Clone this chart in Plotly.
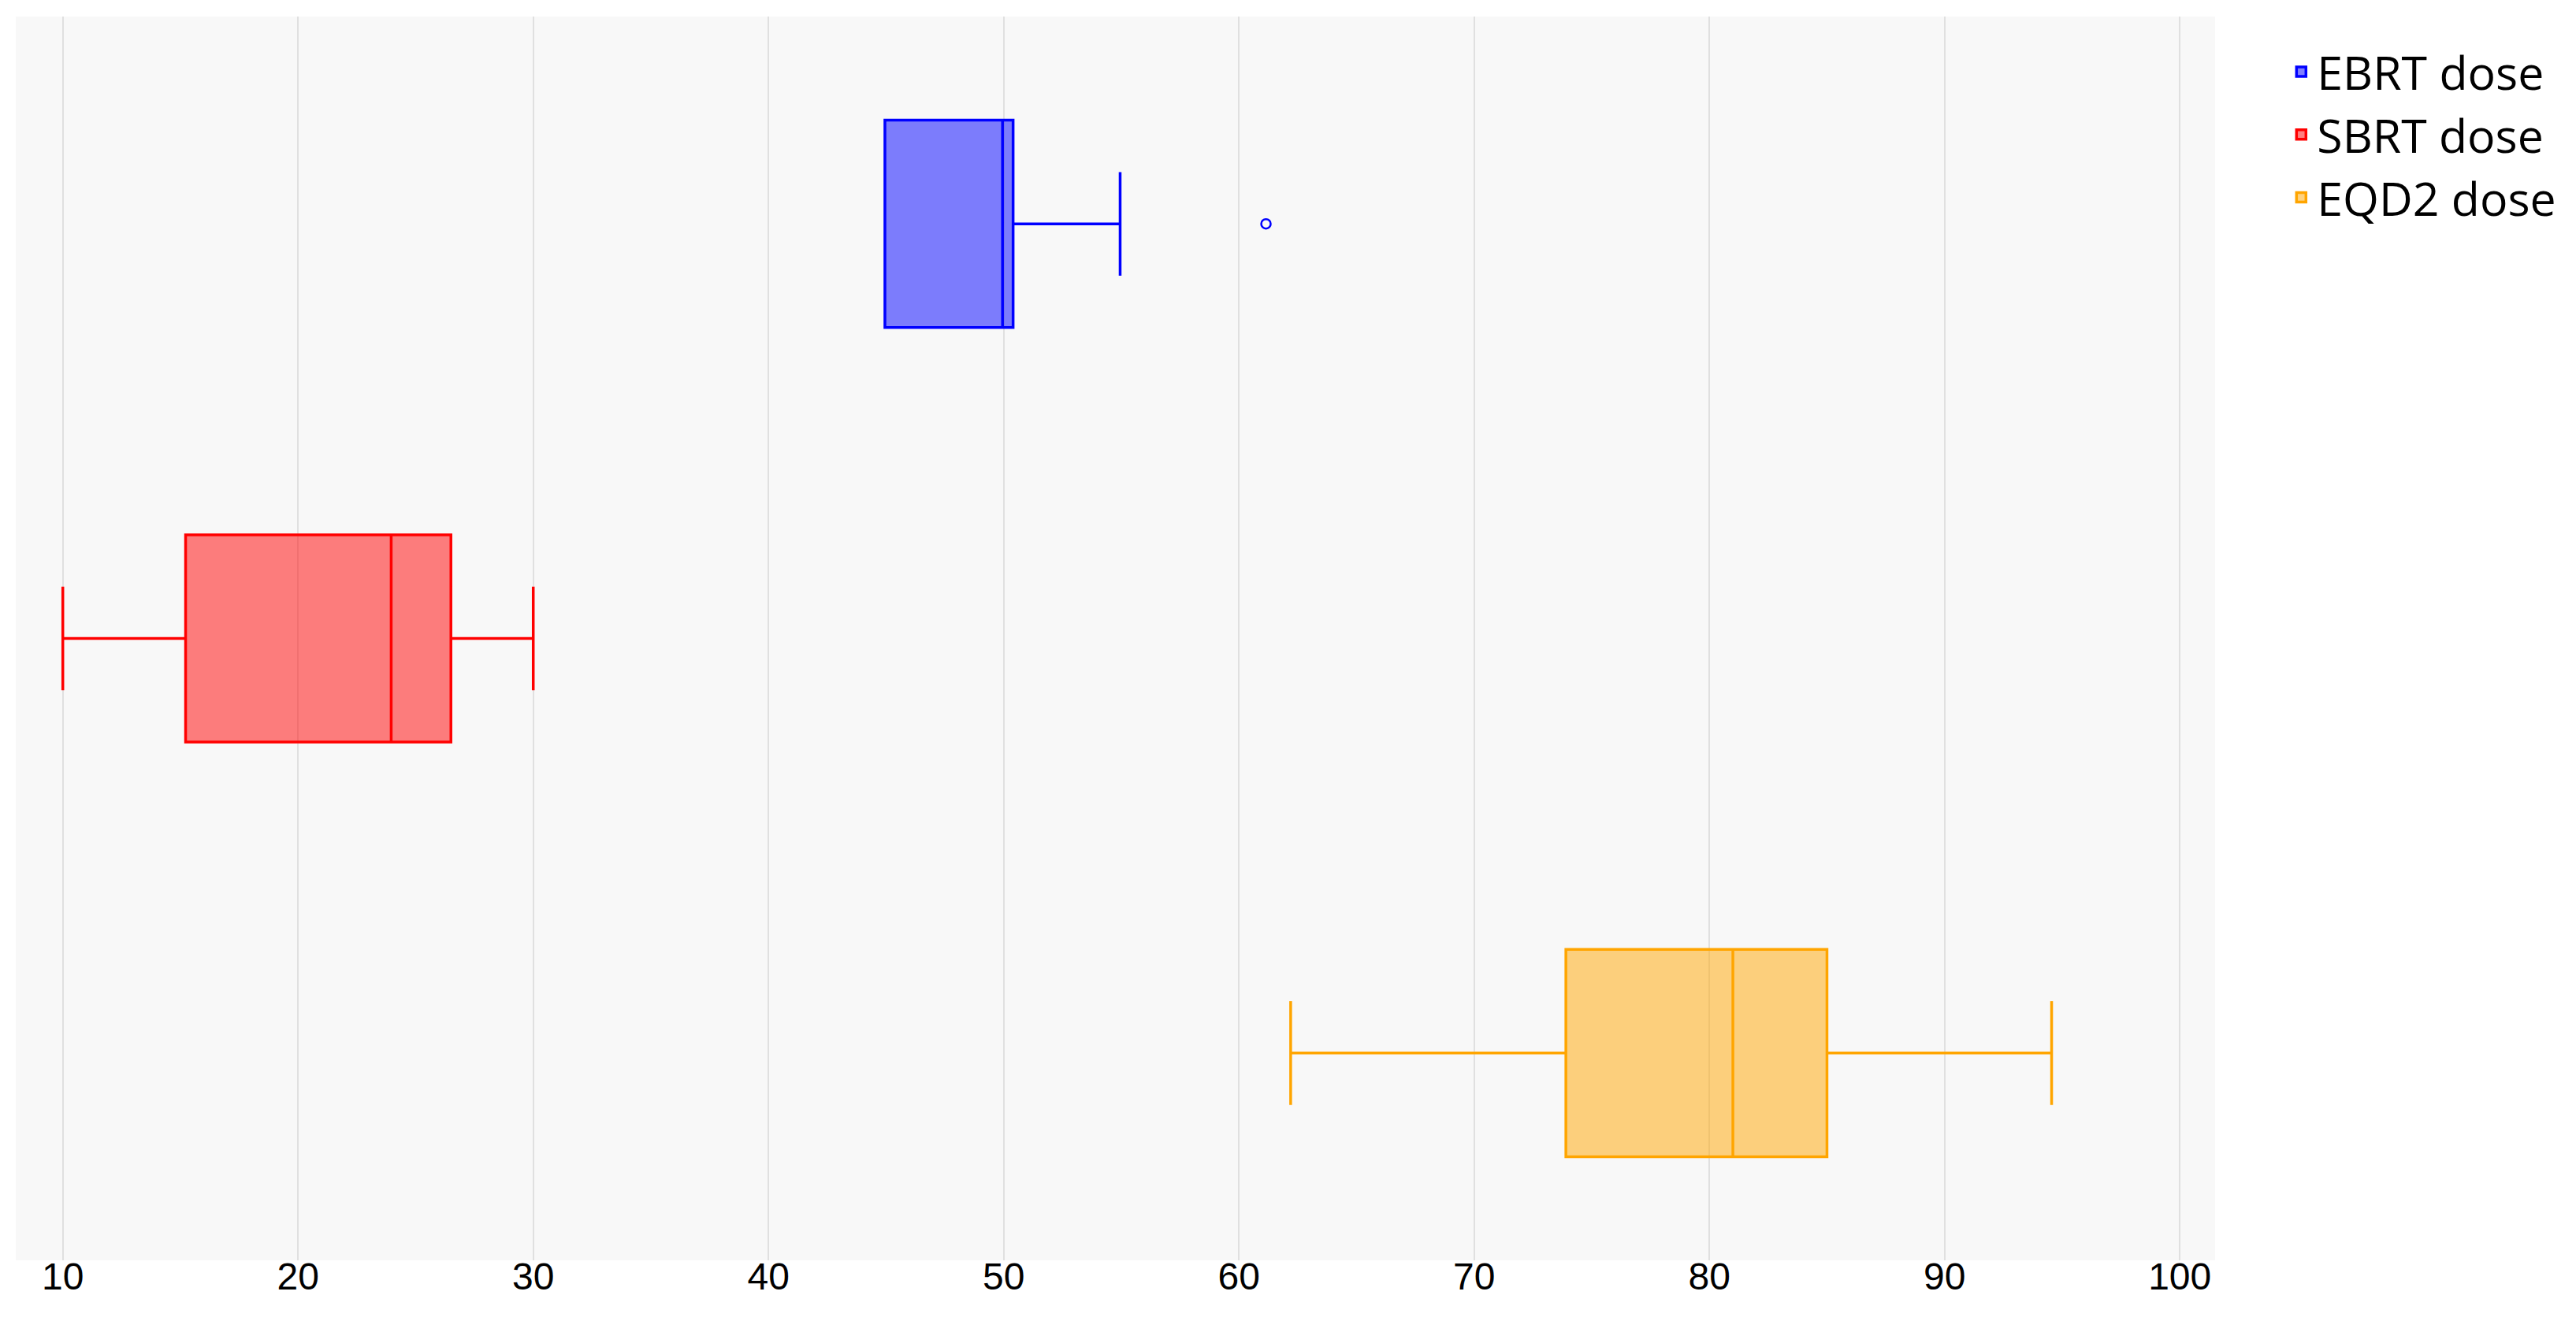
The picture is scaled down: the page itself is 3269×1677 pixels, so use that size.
import plotly.graph_objects as go

# box statistics (Gy)
groups = ['EBRT dose', 'SBRT dose', 'EQD2 dose']
lower = [44.95, 10.0, 62.2]
q1 = [44.95, 15.22, 73.9]
median = [49.95, 23.96, 81.0]
q3 = [50.4, 26.5, 85.0]
upper = [54.95, 30.0, 94.55]
line_colors = ['blue', 'red', 'orange']
fill_colors = ['rgba(0,0,255,0.5)', 'rgba(255,0,0,0.5)', 'rgba(255,165,0,0.5)']

# outliers
outlier_group = ['EBRT dose']
outlier_value = [61.15]

fig = go.Figure()

for i, name in enumerate(groups):
    fig.add_trace(go.Box(
        name=name, y=[name], orientation='h',
        q1=[q1[i]], median=[median[i]], q3=[q3[i]],
        lowerfence=[lower[i]], upperfence=[upper[i]],
        line=dict(color=line_colors[i], width=3.5),
        fillcolor=fill_colors[i],
        whiskerwidth=0.5,
        boxpoints=False,
    ))

fig.add_trace(go.Scatter(
    x=outlier_value, y=outlier_group, mode='markers',
    marker=dict(symbol='circle-open', size=12, color='blue', line=dict(width=2.5)),
    showlegend=False,
))

# page body has an 8px margin, so the figure is a bit smaller than the window
fig.update_layout(
    template='none',
    width=3253, height=1661,
    margin=dict(l=12, r=446, t=13, b=69),
    paper_bgcolor='white',
    plot_bgcolor='#f8f8f8',
    boxgap=0.5,
    boxgroupgap=0,
    boxmode='overlay',
    font=dict(family='Liberation Sans, Arial, sans-serif', color='black'),
    legend=dict(
        x=1.032, y=0.984, xanchor='left', yanchor='top',
        font=dict(family='Open Sans, sans-serif', size=59, color='black'),
        bgcolor='rgba(0,0,0,0)',
        tracegroupgap=0,
    ),
    xaxis=dict(
        range=[8, 101.5], tickmode='array',
        tickvals=[10, 20, 30, 40, 50, 60, 70, 80, 90, 100],
        showgrid=True, gridcolor='#e0e0e0', gridwidth=2,
        zeroline=False, showline=False, ticks='',
        tickfont=dict(size=48, color='black'),
        ticklabelstandoff=-12,
        automargin=False,
    ),
    yaxis=dict(
        range=[2.5, -0.5], showticklabels=False, showgrid=False,
        zeroline=False, showline=False, ticks='',
        automargin=False,
    ),
)

fig.write_html("out.html")
